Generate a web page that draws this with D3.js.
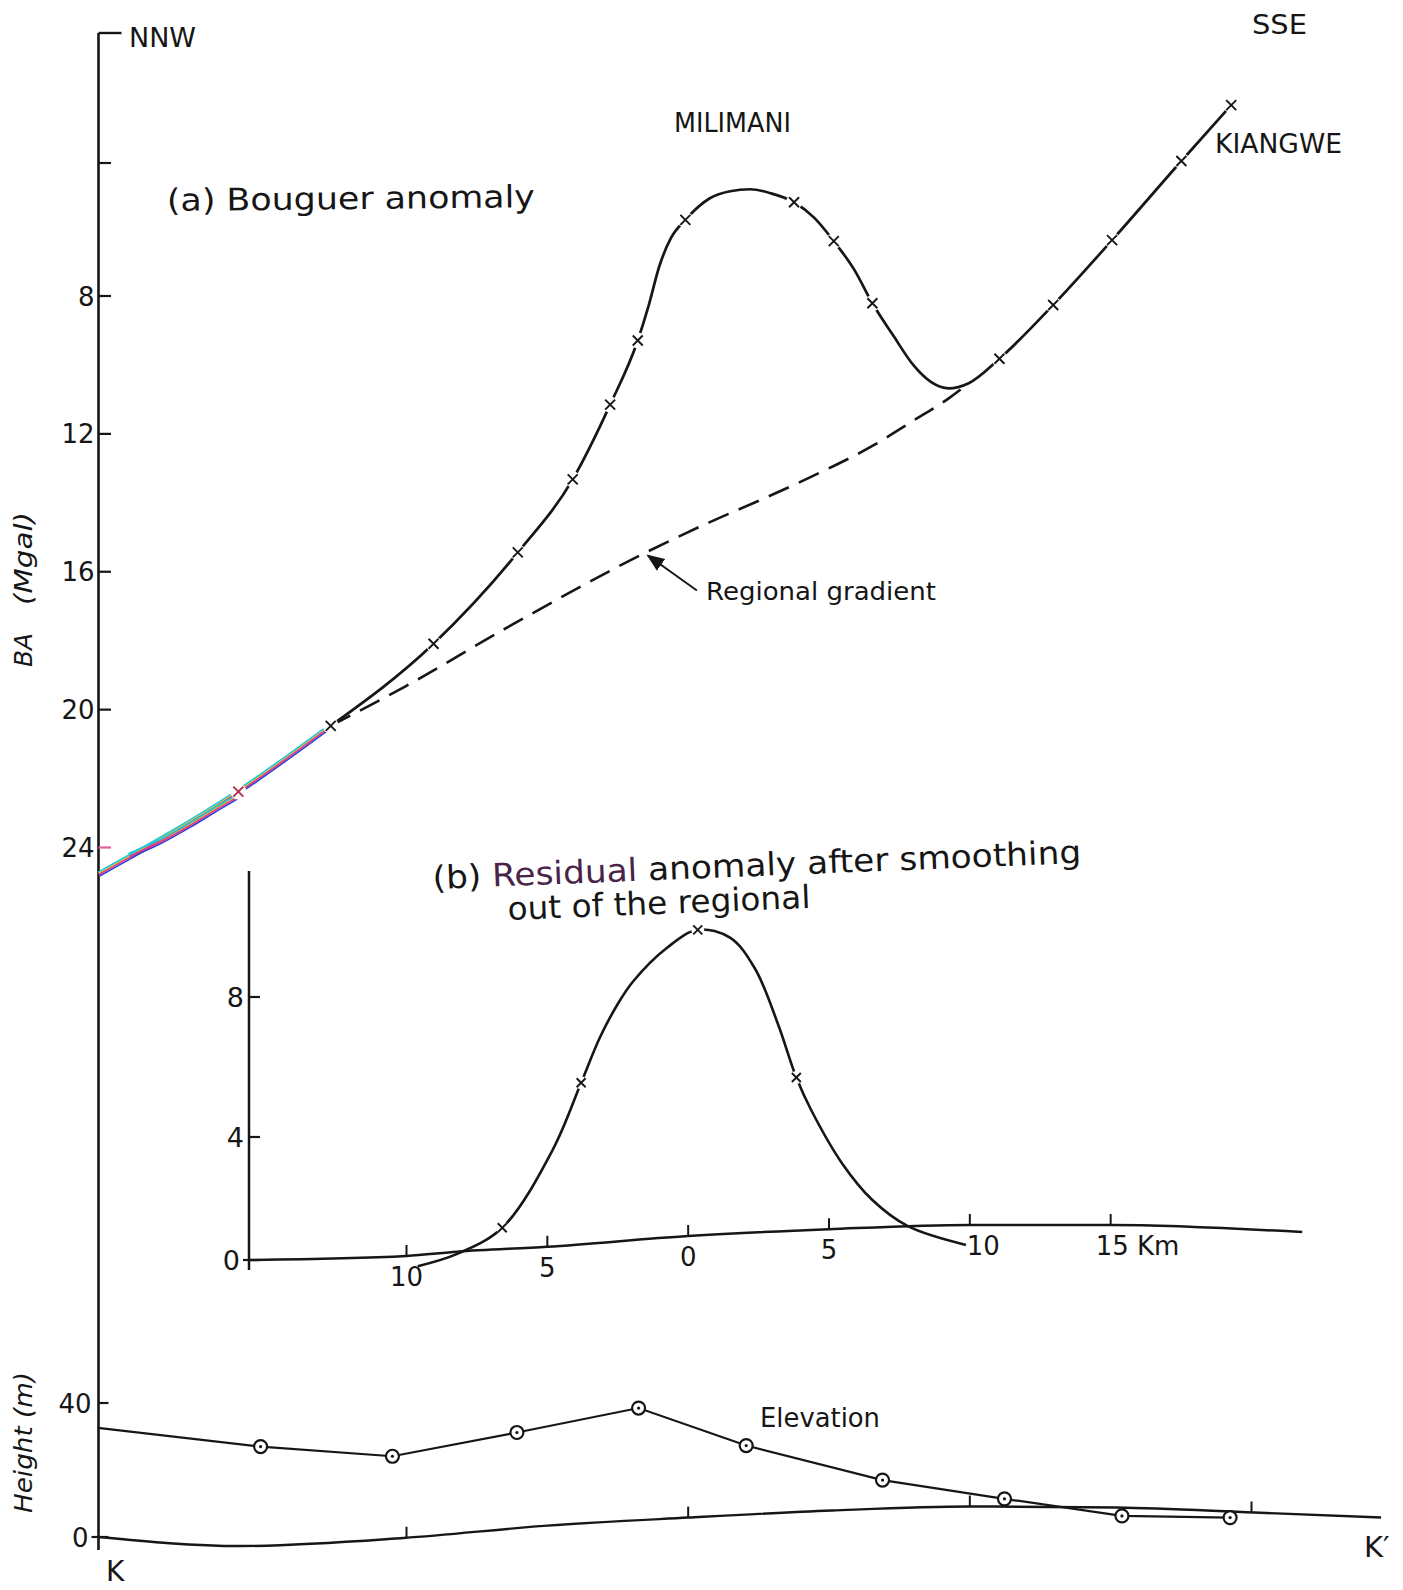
<!DOCTYPE html>
<html>
<head>
<meta charset="utf-8">
<script src="https://cdn.jsdelivr.net/npm/d3@7"></script>
<style>
  body { margin: 0; background: #fff; }
  svg { display: block; }
  text { font-family: "DejaVu Sans", "Open Sans", sans-serif; fill: #161616; }
</style>
</head>
<body>
<svg id="chart" width="1403" height="1590"></svg>
<script>
// ---- Profile K–K' (distance in km, 0 = centre of the Milimani anomaly) ----

// (a) Bouguer anomaly, mGal: observed stations
const baStationDist  = [-15.97, -12.69, -9.04, -6.05, -4.10, -2.77, -1.79, -0.10, 3.76, 5.17, 6.54, 11.05, 12.96, 15.05, 17.51, 19.28];
const baStationValue = [ 22.38,  20.47, 18.09, 15.44, 13.32, 11.15,  9.29,  5.71, 5.18, 6.35, 8.21,  9.82,  8.26,  6.32,  3.94,  2.26];

// (a) smoothed Bouguer profile through the stations
const baProfileDist  = [-20.90, -15.97, -12.69, -9.04, -6.05, -4.10, -2.77, -1.79, -1.39, -1.03, -0.60, -0.10, 0.77, 1.49, 2.20, 2.93, 3.76, 4.48, 5.17, 5.89, 6.54, 7.26, 7.99, 8.63, 9.25, 9.96, 11.05, 12.96, 15.05, 17.51, 19.28];
const baProfileValue = [ 24.76,  22.38,  20.47, 18.09, 15.44, 13.32, 11.15,  9.29,  8.24,  7.12,  6.24,  5.71, 5.06, 4.85, 4.79, 4.91, 5.18, 5.65, 6.35, 7.20, 8.21, 9.12, 10.00, 10.50, 10.68, 10.53,  9.82,  8.26,  6.32,  3.94,  2.26];

// retraced stroke at the NNW end of the profile
const baRetraceDist  = [-19.82, -18.87, -17.69, -16.62, -16.03];
const baRetraceValue = [ 24.22,  23.88,  23.35,  22.82,  22.54];

// regional gradient
const regionalDist  = [-12.69, -10.05, -6.45, -1.50, 0.77, 2.56, 4.38, 6.54, 7.99, 9.25, 9.96];
const regionalValue = [ 20.47,  19.33, 17.63, 15.44, 14.56, 13.92, 13.24, 12.35, 11.62, 10.97, 10.53];

// (b) residual anomaly, mGal
const residualDist  = [-9.60, -8.20, -6.60, -4.80, -3.80, -3.13, -2.50, -1.95, -0.76, 0.34, 1.50, 2.38, 3.20, 3.84, 4.38, 5.46, 6.54, 7.80, 9.86];
const residualValue = [-0.20,  0.20,  1.05,  3.60,  5.55,  6.85,  7.80,  8.45,  9.40, 9.92, 9.69, 8.80, 7.20, 5.70, 4.75, 3.15, 1.95, 1.10, 0.49];
const residualStationDist  = [-6.60, -3.80, 0.34, 3.84];
const residualStationValue = [ 1.05,  5.55, 9.92, 5.70];

// (b) zero line of the residual panel
const residualDatumDist  = [-15.59, -10.0, -8.2, -5.0, 0.0, 5.0, 10.0, 15.0, 21.8];
const residualDatumValue = [  0.00,  0.13, 0.27, 0.43, 0.78, 1.00, 1.14, 1.14, 0.91];

// elevation, m
const elevDist   = [-20.96, -15.18, -10.50, -6.08, -1.76, 2.06, 6.90, 11.23, 15.40, 19.24];
const elevHeight = [ 32.6,   27.0,   24.1,  31.2,  38.5, 27.3, 17.0, 11.4,   6.3,   5.8];

// elevation datum line
const elevDatumDist   = [-20.93, -15.9, -10.1, -5.0, 0.0, 5.1, 10.0, 15.2, 20.1, 24.6];
const elevDatumHeight = [  0.0,   -2.7,  -0.3,  3.4, 5.8, 7.9,  9.1,  8.8,  7.3,  5.8];

// ticks
const baTicks       = [4, 8, 12, 16, 20, 24];
const baTickLabels  = ["", "8", "12", "16", "20", "24"];
const resTicks      = [0, 4, 8];
const resTickLabels = ["0", "4", "8"];
const heightTicks   = [0, 40];
const heightTickLabels = ["0", "40"];
const resDistTicks  = [-10, -5, 0, 5, 10, 15];
const resDistLabels = ["10", "5", "0", "5", "10", "15 Km"];
const elevDistTicks = [-10, 0, 10, 20];

// ---- scales ----
const AX = 98.5;    // main vertical axis
const RAX = 249;    // residual panel axis
const x    = d3.scaleLinear().domain([-10, 20]).range([406.5, 1251.5]);
const yBA  = d3.scaleLinear().domain([4, 8, 24]).range([163, 296, 847.5]);
const yRes = d3.scaleLinear().domain([0, 4, 8]).range([1260, 1137, 997]);
const yH   = d3.scaleLinear().domain([0, 40]).range([1537, 1403]);

const zip = (a, b) => a.map((v, i) => [v, b[i]]);
const lineOf = (sy, curve = d3.curveMonotoneX) =>
  d3.line().x(d => x(d[0])).y(d => sy(d[1])).curve(curve);

const svg = d3.select("#chart");
svg.append("rect").attr("width", 1403).attr("height", 1590).attr("fill", "#fff");

const INK = "#161616";
const fringe = [
  { c: "#2b3ed6", dx: 0.6, dy: 2.0 },
  { c: "#e4d21c", dx: -0.4, dy: -0.6 },
  { c: "#e0358c", dx: 0.0, dy: 0.6 },
  { c: "#25c6d6", dx: -0.8, dy: -1.8 }
];

const label = (x0, y0, str, size, len, extra = {}) => {
  const t = svg.append("text").attr("x", x0).attr("y", y0).attr("font-size", size).text(str);
  if (len) t.attr("textLength", len).attr("lengthAdjust", "spacingAndGlyphs");
  Object.entries(extra).forEach(([k, v]) => t.attr(k, v));
  return t;
};

// ---- main axis ----
svg.append("line").attr("x1", AX).attr("x2", AX).attr("y1", 33).attr("y2", 1550)
  .attr("stroke", INK).attr("stroke-width", 2.6);
// direction marker at the top of the axis
svg.append("line").attr("x1", AX).attr("x2", AX + 23).attr("y1", 33).attr("y2", 33)
  .attr("stroke", INK).attr("stroke-width", 2.4);
label(129, 47, "NNW", 27, 67);
label(1252, 34, "SSE", 27, 55);

baTicks.forEach((t, i) => {
  const y = yBA(t);
  const is24 = t === 24;
  svg.append("line").attr("x1", AX).attr("x2", AX + 12.5).attr("y1", y).attr("y2", y)
    .attr("stroke", is24 ? "#e0609a" : INK).attr("stroke-width", 2.2);
  if (baTickLabels[i]) {
    svg.append("text").attr("x", AX - 4).attr("y", y + 9.5).attr("text-anchor", "end")
      .attr("font-size", 26).attr("fill", is24 ? "#6a3c92" : INK).text(baTickLabels[i]);
  }
});

heightTicks.forEach((t, i) => {
  const y = yH(t);
  svg.append("line").attr("x1", t === 0 ? AX - 7 : AX).attr("x2", AX + 10).attr("y1", y).attr("y2", y)
    .attr("stroke", INK).attr("stroke-width", 2.2);
  svg.append("text").attr("x", t === 0 ? AX - 10 : AX - 7).attr("y", y + 9.5).attr("text-anchor", "end")
    .attr("font-size", 26).text(heightTickLabels[i]);
});

// axis titles (rotated)
const vtitle = (cx, cy, str, size, len) =>
  svg.append("text").attr("transform", `translate(${cx},${cy}) rotate(-90)`)
    .attr("text-anchor", "middle").attr("font-size", size).attr("font-style", "italic")
    .attr("fill", "#3a3a3a").attr("textLength", len).attr("lengthAdjust", "spacingAndGlyphs")
    .text(str);
vtitle(31.5, 650, "BA", 24, 34);
vtitle(31.5, 558.5, "(Mgal)", 24, 93);
vtitle(31.5, 1442.5, "Height (m)", 24, 141);

// ---- (a) Bouguer anomaly ----
const gA = svg.append("g");
const profile = zip(baProfileDist, baProfileValue);
const cut = -13.0;
const nnwPart = profile.filter(d => d[0] <= cut + 0.4);
const mainPart = profile.filter(d => d[0] >= -12.69);

// regional gradient (dashed)
gA.append("path").datum(zip(regionalDist, regionalValue))
  .attr("d", lineOf(yBA)).attr("fill", "none").attr("stroke", INK)
  .attr("stroke-width", 2.6).attr("stroke-dasharray", "22,11");

gA.append("path").datum(mainPart).attr("d", lineOf(yBA))
  .attr("fill", "none").attr("stroke", INK).attr("stroke-width", 2.7);

// NNW end drawn with colour-separated ink
const retrace = zip(baRetraceDist, baRetraceValue);
fringe.forEach(f => {
  [nnwPart, retrace].forEach(seg => {
    gA.append("path").datum(seg).attr("d", lineOf(yBA))
      .attr("transform", `translate(${f.dx},${f.dy})`)
      .attr("fill", "none").attr("stroke", f.c).attr("stroke-width", 1.6)
      .attr("stroke-linecap", "round");
  });
});

// gaps in the line around each station
const stations = zip(baStationDist, baStationValue);
gA.selectAll("circle.halo").data(stations).join("circle")
  .attr("cx", d => x(d[0])).attr("cy", d => yBA(d[1])).attr("r", 8).attr("fill", "#fff");
gA.selectAll("path.st").data(stations).join("path")
  .attr("transform", d => `translate(${x(d[0])},${yBA(d[1])})`)
  .attr("d", "M-5,-5L5,5M-5,5L5,-5")
  .attr("stroke", d => d[0] < cut ? "#b0304a" : INK).attr("stroke-width", 1.9).attr("fill", "none");

label(167, 211, "(a) Bouguer anomaly", 31, 368, { transform: "rotate(-0.6,167,211)" });
label(674, 132, "MILIMANI", 26, 117);
label(1215, 153, "KIANGWE", 27, 127);

// regional gradient annotation
const tipX = x(-1.5), tipY = yBA(15.44);
svg.append("defs").append("marker").attr("id", "head").attr("viewBox", "0 0 10 10")
  .attr("refX", 9).attr("refY", 5).attr("markerWidth", 9).attr("markerHeight", 9)
  .attr("orient", "auto-start-reverse")
  .append("path").attr("d", "M0,1L10,5L0,9Z").attr("fill", INK);
svg.append("line").attr("x1", tipX + 51).attr("y1", tipY + 38).attr("x2", tipX + 2).attr("y2", tipY + 3)
  .attr("stroke", INK).attr("stroke-width", 2).attr("marker-end", "url(#head)");
label(706, 600, "Regional gradient", 25, 230);

// ---- (b) residual anomaly ----
const gB = svg.append("g");
gB.append("line").attr("x1", RAX).attr("x2", RAX).attr("y1", 871).attr("y2", 1270)
  .attr("stroke", INK).attr("stroke-width", 2.5);
resTicks.forEach((t, i) => {
  const y = yRes(t);
  gB.append("line").attr("x1", t === 0 ? RAX - 6 : RAX).attr("x2", RAX + 11).attr("y1", y).attr("y2", y)
    .attr("stroke", INK).attr("stroke-width", 2.2);
  gB.append("text").attr("x", t === 0 ? RAX - 9 : RAX - 5).attr("y", y + 10).attr("text-anchor", "end")
    .attr("font-size", 27).text(resTickLabels[i]);
});

const resDatumAt = d3.scaleLinear().domain(residualDatumDist).range(residualDatumValue);
gB.append("path").datum(zip(residualDatumDist, residualDatumValue))
  .attr("d", lineOf(yRes)).attr("fill", "none").attr("stroke", INK).attr("stroke-width", 2.5);
resDistTicks.forEach((t, i) => {
  const y = yRes(resDatumAt(t));
  gB.append("line").attr("x1", x(t)).attr("x2", x(t)).attr("y1", y).attr("y2", y - 11)
    .attr("stroke", INK).attr("stroke-width", 2);
  const lbl = resDistLabels[i];
  const anchor = lbl.includes("Km") ? "start" : (t === 10 ? "start" : "middle");
  const lx = lbl.includes("Km") ? x(t) - 15 : (t === 10 ? x(t) - 3 : x(t));
  gB.append("text").attr("x", lx).attr("y", y + 30).attr("text-anchor", anchor)
    .attr("font-size", 26).text(lbl);
});

gB.append("path").datum(zip(residualDist, residualValue))
  .attr("d", lineOf(yRes, d3.curveCatmullRom.alpha(0.5)))
  .attr("fill", "none").attr("stroke", INK).attr("stroke-width", 2.6);
const resSt = zip(residualStationDist, residualStationValue);
gB.selectAll("circle.halo").data(resSt).join("circle")
  .attr("cx", d => x(d[0])).attr("cy", d => yRes(d[1])).attr("r", 6.5).attr("fill", "#fff");
gB.selectAll("path.st").data(resSt).join("path")
  .attr("transform", d => `translate(${x(d[0])},${yRes(d[1])})`)
  .attr("d", "M-4.5,-4.5L4.5,4.5M-4.5,4.5L4.5,-4.5")
  .attr("stroke", INK).attr("stroke-width", 1.9);

const t1 = svg.append("text").attr("x", 433).attr("y", 889).attr("font-size", 32)
  .attr("textLength", 649).attr("lengthAdjust", "spacingAndGlyphs")
  .attr("transform", "rotate(-2.3,433,889)");
t1.append("tspan").text("(b) ");
t1.append("tspan").attr("fill", "#4a2448").text("Residual");
t1.append("tspan").text(" anomaly after smoothing");
label(508, 920, "out of the regional", 32, 303, { transform: "rotate(-2.3,508,920)" });

// ---- elevation ----
const gE = svg.append("g");
const elevDatumAt = d3.scaleLinear().domain(elevDatumDist).range(elevDatumHeight);
gE.append("path").datum(zip(elevDatumDist, elevDatumHeight))
  .attr("d", lineOf(yH)).attr("fill", "none").attr("stroke", INK).attr("stroke-width", 2.4);
elevDistTicks.forEach(t => {
  const y = yH(elevDatumAt(t));
  gE.append("line").attr("x1", x(t)).attr("x2", x(t)).attr("y1", y).attr("y2", y - 11)
    .attr("stroke", INK).attr("stroke-width", 2);
});
const elev = zip(elevDist, elevHeight);
gE.append("path").datum(elev)
  .attr("d", d3.line().x(d => x(d[0])).y(d => yH(d[1])))
  .attr("fill", "none").attr("stroke", INK).attr("stroke-width", 2.2);
const elevSt = elev.slice(1);
gE.selectAll("circle.st").data(elevSt).join("circle")
  .attr("cx", d => x(d[0])).attr("cy", d => yH(d[1])).attr("r", 6.5)
  .attr("fill", "#fff").attr("stroke", INK).attr("stroke-width", 2.2);
gE.selectAll("circle.dot").data(elevSt).join("circle")
  .attr("cx", d => x(d[0])).attr("cy", d => yH(d[1])).attr("r", 1.6).attr("fill", INK);

label(760, 1427, "Elevation", 26, 120);
label(106, 1581, "K", 28);
label(1364, 1557, "K\u2032", 29);
</script>
</body>
</html>
